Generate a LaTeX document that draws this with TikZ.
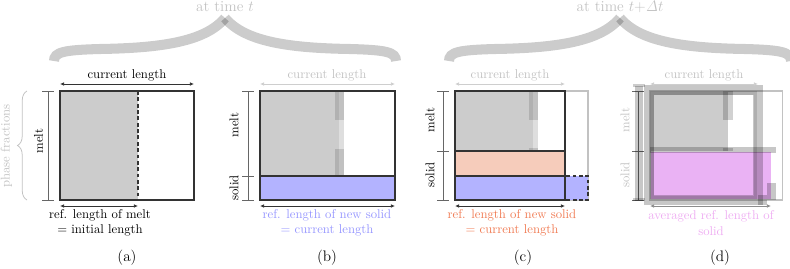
\documentclass[tikz,border=0pt]{standalone}
\usetikzlibrary{arrows.meta,decorations.pathreplacing}
\definecolor{gfill}{gray}{0.8}
\definecolor{bfill}{RGB}{179,179,255}
\definecolor{btext}{RGB}{150,150,255}
\definecolor{ofill}{RGB}{246,204,187}
\definecolor{otext}{RGB}{240,122,82}
\definecolor{pfill}{RGB}{234,178,244}
\definecolor{ptext}{RGB}{238,172,242}
\definecolor{lgray}{gray}{0.76}
\definecolor{frame}{gray}{0.2}
\tikzset{
  box/.style={draw=frame, line width=1.3pt},
  meas/.style={draw=black!60, line width=0.6pt},
  dim/.style={{Latex[length=3.2pt,width=2.8pt]}-{Latex[length=3.2pt,width=2.8pt]}, line width=0.6pt},
  vlbl/.style={rotate=90, inner sep=0pt},
  txt/.style={inner sep=0pt, align=center},
  sub/.style={inner sep=0pt, font=\large},
  band/.style={draw=black, opacity=0.22},
  bigbrace/.style={draw=black, opacity=0.2, line width=7.9pt, line cap=butt},
}
\begin{document}
\begin{tikzpicture}[x=0.787pt,y=-0.787pt]
\useasboundingbox (0,0) rectangle (790,268);
\clip (0,0) rectangle (790,268);

% ---------------- top braces ----------------
\node[sub, text=lgray, anchor=base] (tt) at (225,11.5) {at time $t$};
\draw[bigbrace] (54,61) .. controls (54,52) and (64,50) .. (100,49) .. controls (160,48) and (205,42) .. (225,18);
\draw[bigbrace] (396,61) .. controls (396,52) and (386,50) .. (350,49) .. controls (290,48) and (245,42) .. (225,18);
\node[sub, text=lgray, anchor=base] (tdt) at (620,11.5) {at time $t{+}\mathit{\Delta} t$};
\draw[bigbrace] (449,61) .. controls (449,52) and (459,50) .. (495,49) .. controls (555,48) and (600,42) .. (620,18);
\draw[bigbrace] (791,61) .. controls (791,52) and (781,50) .. (745,49) .. controls (685,48) and (640,42) .. (620,18);

% ---------------- panel (a) ----------------
\fill[gfill] (60,91) rectangle (138,200);
\draw[box] (60,91) rectangle (194,200);
\draw[box, dash pattern=on 3pt off 2pt] (138,91) -- (138,200);
\coordinate (aTL) at (60,84); \coordinate (aTR) at (194,84);
\draw[dim, frame] (aTL) -- (aTR);
\node[txt] (acl) at (127,75) {current length};
\draw[meas] (48,91) -- (48,200) (42,91) -- (54,91) (42,200) -- (54,200);
\node[vlbl] (amelt) at (38.5,141) {melt};
\draw[lgray, line width=0.6pt, decorate, decoration={brace, amplitude=7.5pt}] (27,200) -- (27,91);
\node[vlbl, text=lgray] (apf) at (6.5,146) {phase fractions};
\coordinate (aBL) at (60,206); \coordinate (aBR) at (138,206);
\draw[dim, frame] (aBL) -- (aBR);
\node[txt] (aref) at (100,223) {ref. length of melt\\= initial length};
\node[sub] (alab) at (127,258) {(a)};

% ---------------- panel (b) ----------------
\fill[gfill] (260,91) rectangle (339,176);
\fill[black, opacity=0.13] (339,91) rectangle (344,176);
\fill[black, opacity=0.13] (335,91) rectangle (344,120);
\fill[black, opacity=0.13] (335,149) rectangle (344,176);
\fill[bfill] (260,176) rectangle (395,200);
\draw[box] (260,91) rectangle (395,200);
\draw[box] (260,176) -- (395,176);
\draw[meas] (248,91) -- (248,200) (242,91) -- (254,91) (242,176) -- (254,176) (242,200) -- (254,200);
\node[vlbl] (bmelt) at (234,125) {melt};
\node[vlbl] (bsolid) at (234,188) {solid};
\coordinate (bTL) at (260,84); \coordinate (bTR) at (395,84);
\draw[dim, lgray!80] (bTL) -- (bTR);
\node[txt, text=lgray] (bcl) at (327,75) {current length};
\coordinate (bBL) at (260,206); \coordinate (bBR) at (395,206);
\draw[dim, frame] (bBL) -- (bBR);
\node[txt, text=btext] (bref) at (327,223) {ref. length of new solid\\= current length};
\node[sub] (blab) at (327,258) {(b)};

% ---------------- panel (c) ----------------
\fill[gfill] (455,91) rectangle (533,151);
\fill[black, opacity=0.13] (533,91) rectangle (538,151);
\fill[black, opacity=0.13] (529,91) rectangle (538,120);
\fill[black, opacity=0.13] (529,148) rectangle (538,151);
\fill[ofill] (455,151) rectangle (565,176);
\fill[bfill] (455,176) rectangle (565,200);
\draw[lgray, line width=0.8pt] (455,91) rectangle (588,200);
\draw[box, fill=bfill, dash pattern=on 3pt off 2pt] (565,176) rectangle (588,200);
\draw[box] (455,91) rectangle (565,200);
\draw[box] (455,151) -- (565,151) (455,176) -- (565,176);
\draw[meas] (443,91) -- (443,200) (437,91) -- (449,91) (437,151) -- (449,151) (437,200) -- (449,200);
\node[vlbl] (cmelt) at (430,120) {melt};
\node[vlbl] (csolid) at (430,175) {solid};
\coordinate (cTL) at (455,84); \coordinate (cTR) at (565,84);
\draw[dim, lgray!80] (cTL) -- (cTR);
\node[txt, text=lgray] (ccl) at (510,75) {current length};
\coordinate (cBL) at (455,206); \coordinate (cBR) at (565,206);
\draw[dim, frame] (cBL) -- (cBR);
\node[txt, text=otext] (cref) at (512,223) {ref. length of new solid\\= current length};
\node[sub] (clab) at (523,258) {(c)};

% ---------------- panel (d) ----------------
\fill[gfill] (650,91) rectangle (728,151);
\fill[pfill] (650,152) rectangle (771,199);
\draw[lgray, line width=0.8pt] (650,91) rectangle (782,200);
\fill[black, opacity=0.18] (723,91) rectangle (733,120);
\fill[black, opacity=0.18] (723,148) rectangle (733,151);
\draw[band, line width=7.9pt] (649,90) rectangle (758,200);
\draw[black, opacity=0.12, line width=3.1pt] (652,93) rectangle (755.5,197.5);
\draw[band, line width=4.7pt] (650,149.7) -- (776,149.7);
\fill[black, opacity=0.22] (767,183) rectangle (776,200);
\fill[black, opacity=0.22] (758,195) rectangle (767,205);
\draw[meas] (638,91) -- (638,200) (632,91) -- (644,91) (632,151) -- (644,151) (632,200) -- (644,200);
\draw[band, line width=6.3pt] (639,86) -- (639,201);
\draw[black, opacity=0.2, line width=2.6pt] (633,85.5) -- (645,85.5) (633,199.5) -- (645,199.5);
\node[vlbl, text=lgray] (dmelt) at (625,120) {melt};
\node[vlbl, text=lgray] (dsolid) at (625,175) {solid};
\coordinate (dTL) at (650,84); \coordinate (dTR) at (758,84);
\draw[dim, lgray!80] (dTL) -- (dTR);
\node[txt, text=lgray] (dcl) at (704,75) {current length};
\coordinate (dBL) at (650,206); \coordinate (dBR) at (771,206);
\draw[dim, black!45] (dBL) -- (dBR);
\node[txt, text=ptext] (dref) at (711,223) {averaged ref. length of\\solid};
\node[sub] (dlab) at (720,258) {(d)};
\end{tikzpicture}
\end{document}
